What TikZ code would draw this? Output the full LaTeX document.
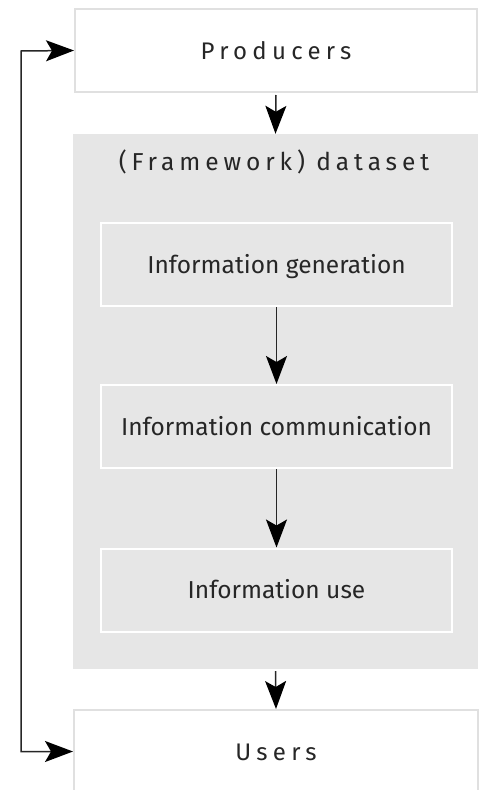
\documentclass[tikz,border=0pt]{standalone}
\usepackage{fontspec}
\setmainfont{Fira Sans}
\usetikzlibrary{arrows.meta}
\definecolor{panel}{HTML}{E6E6E6}
\definecolor{edge}{HTML}{E0E0E0}
\definecolor{ink}{HTML}{262626}
\tikzset{
  headtip/.tip={Stealth[length=28pt,width=21pt,inset=6pt,color=black]},
  outerbox/.style={draw=edge, line width=2pt, fill=white, minimum width=402pt,
    minimum height=83pt, inner sep=0pt, text=ink,
    font=\fontsize{24}{26}\selectfont\addfontfeature{LetterSpace=22},
    text height=17pt, text depth=0pt},
  panelbox/.style={fill=panel, draw=none, minimum width=405pt, minimum height=535pt, inner sep=0pt},
  innerbox/.style={draw=white, line width=2pt, fill=panel, minimum width=351pt,
    minimum height=83pt, inner sep=0pt, text=ink, font=\fontsize{24.5}{26}\selectfont,
    text height=17.5pt, text depth=0pt},
  titletext/.style={text=ink, inner sep=0pt,
    font=\fontsize{24.5}{26}\selectfont\addfontfeature{LetterSpace=20},
    text height=18pt, text depth=0pt},
  flow/.style={draw=ink, line width=1.5pt, -headtip},
  loop/.style={draw=ink, line width=1.5pt, headtip-headtip},
}
\begin{document}
\begin{tikzpicture}[x=1pt,y=-1pt]
  \useasboundingbox (0,0) rectangle (483,790);
  \begin{scope}
    \clip (0,0) rectangle (483,790);
    % top and bottom actors
    \node[outerbox] (prod) at (276,50.5) {Producers};
    \node[outerbox, minimum width=404pt] (users) at (276,751.5) {Users};
  \end{scope}
  % dataset panel with its three stages
  \node[panelbox] (panel) at (275.5,401.5) {};
  \node[titletext] (title) at (274,161) {(Framework) dataset};
  \node[innerbox] (gen) at (276.5,264.5) {Information generation};
  \node[innerbox] (comm) at (276.5,426.5) {Information communication};
  \node[innerbox] (use) at (276.5,590) {Information use};
  % vertical flow
  \draw[flow] (prod.south) ++(0,2) -- (panel.north);
  \draw[flow] (gen.south) -- (comm.north);
  \draw[flow] (comm.south) -- (use.north);
  \draw[flow] (panel.south) ++(0,2) -- (users.north);
  % feedback loop on the left
  \coordinate (lp) at (21,51);
  \draw[loop] (prod.west) -- (lp) |- (users.west);
\end{tikzpicture}
\end{document}
